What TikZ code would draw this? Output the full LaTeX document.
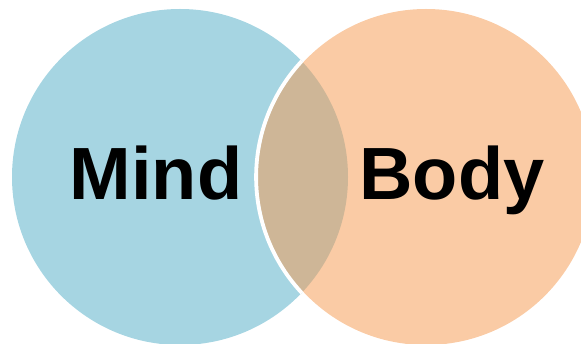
\documentclass[tikz,border=0pt]{standalone}
\usepackage{fontspec}
\setmainfont{Liberation Sans}
\definecolor{mindblue}{HTML}{A6D5E2}
\definecolor{bodyorange}{HTML}{FACBA5}
\definecolor{overlap}{HTML}{CEB697}
\tikzset{
  lbl/.style={font=\fontsize{74}{78}\selectfont\bfseries, text=black, anchor=base, inner sep=0pt}
}
\begin{document}
\begin{tikzpicture}[x=1pt,y=-1pt]
\useasboundingbox (0,0) rectangle (581,344);
\begin{scope}
\clip (0,0) rectangle (581,344);
\coordinate (cm) at (180,177);
\coordinate (cb) at (426,177);
\fill[mindblue] (cm) circle[radius=168];
\fill[bodyorange] (cb) circle[radius=168];
\begin{scope}
  \clip (cm) circle[radius=168];
  \fill[overlap] (cb) circle[radius=168];
  \draw[white, line width=3.8] (cb) circle[radius=169.9];
\end{scope}
\end{scope}
\node[lbl] (mind) at (156,200) {Mind};
\node[lbl] (body) at (452,200) {Body};
\end{tikzpicture}
\end{document}
